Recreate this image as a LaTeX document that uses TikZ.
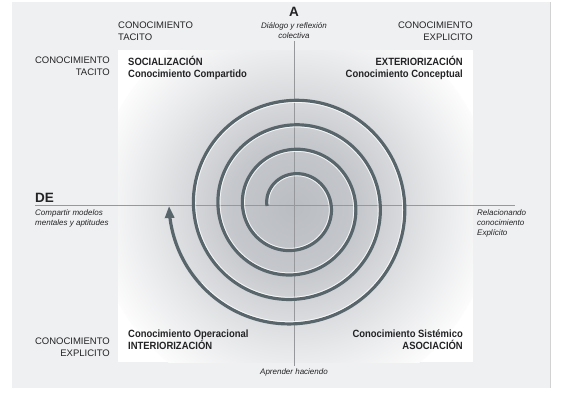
\documentclass[tikz,border=0pt]{standalone}
\usepackage{fontspec}
\setmainfont{Liberation Sans}
\newfontfamily\narrowfont[FakeStretch=0.9]{Liberation Sans}
\definecolor{panelgray}{RGB}{239,240,242}
\definecolor{axisgray}{RGB}{150,152,155}
\definecolor{spiralgray}{RGB}{88,102,108}
\definecolor{glowgray}{RGB}{186,189,194}
\definecolor{textdark}{RGB}{35,35,38}
\usetikzlibrary{arrows.meta,positioning}
\pgfdeclareradialshading{glow}{\pgfpoint{0bp}{0bp}}{color(0bp)=(glowgray); color(8bp)=(glowgray!85!white); color(18bp)=(glowgray!35!white); color(26bp)=(white); color(50bp)=(white)}

\begin{document}
\begin{tikzpicture}[x=1pt,y=-1pt,
    caplabel/.style={inner sep=0pt, font=\fontsize{9.5}{11.5}\selectfont, text=textdark},
    modelabel/.style={inner sep=0pt, font=\narrowfont\bfseries\fontsize{10.5}{12}\selectfont, text=textdark},
    axislabel/.style={inner sep=0pt, font=\itshape\fontsize{8}{10}\selectfont, text=textdark},
    pole/.style={inner sep=0pt, font=\bfseries\fontsize{13.5}{14}\selectfont, text=textdark},
    axis/.style={draw=axisgray, line width=0.8pt},
    spiral/.style={draw=spiralgray, line width=3.2pt, -{Triangle[length=12pt,width=9pt]}},
    shine/.style={draw=white, line width=0.8pt, opacity=0.8}]
  \useasboundingbox (0,0) rectangle (561,410);
  \fill[panelgray] (12,2) rectangle (550,388);
  \draw[gray!35] (550,2) -- (550,388);
  \fill[white] (118,50) rectangle (473,362);
  \begin{scope}
    \clip (118,50) rectangle (473,362);
    \shade[shading=glow] (294,207) circle[radius=200];
  \end{scope}

  % corner labels
  \node[caplabel, anchor=north west, align=left] (tactop) at (118,22) {CONOCIMIENTO\\TACITO};
  \node[caplabel, anchor=north east, align=right] (tacleft) at (110,57) {CONOCIMIENTO\\TACITO};
  \node[caplabel, anchor=north east, align=right] (exptop) at (473,22) {CONOCIMIENTO\\EXPLICITO};
  \node[caplabel, anchor=north east, align=right] (expleft) at (110,338) {CONOCIMIENTO\\EXPLICITO};

  % the four modes
  \node[modelabel, anchor=north west, align=left] (soc) at (128,56) {SOCIALIZACIÓN\\Conocimiento Compartido};
  \node[modelabel, anchor=north east, align=right] (ext) at (463,56) {EXTERIORIZACIÓN\\Conocimiento Conceptual};
  \node[modelabel, anchor=north west, align=left] (inte) at (128,330) {Conocimiento Operacional\\INTERIORIZACIÓN};
  \node[modelabel, anchor=north east, align=right] (aso) at (463,330) {Conocimiento Sistémico\\ASOCIACIÓN};

  % axes
  \node[pole, anchor=north] (poleA) at (294,7) {A};
  \node[axislabel, anchor=north, align=center] (dialogo) at (294,22) {Diálogo y reflexión\\colectiva};
  \node[axislabel, anchor=north] (aprender) at (294,368) {Aprender haciendo};
  \node[pole, anchor=south west] (poleDE) at (35,203) {DE};
  \node[axislabel, anchor=north west, align=left] (compartir) at (35,209) {Compartir modelos\\mentales y aptitudes};
  \node[axislabel, anchor=north west, align=left] (relac) at (477,209) {Relacionando\\conocimiento\\Explícito};
  \coordinate (hleft) at (35,205);
  \coordinate (hright) at (515,205);
  \draw[axis] ([yshift=-3pt]dialogo.south) -- ([yshift=2pt]aprender.north);
  \draw[axis] (hleft) -- (hright);

  % spiral
  \draw[spiral] plot[domain=180:1620, samples=360, smooth, variable=\t]
    ({293+(26+(\t-180)/360*24.5)*cos(\t)}, {206+(26+(\t-180)/360*24.5)*sin(\t)});
  \draw[shine] plot[domain=185:1580, samples=360, smooth, variable=\t]
    ({293+(23.8+(\t-180)/360*24.5)*cos(\t)}, {206+(23.8+(\t-180)/360*24.5)*sin(\t)});
\end{tikzpicture}
\end{document}
